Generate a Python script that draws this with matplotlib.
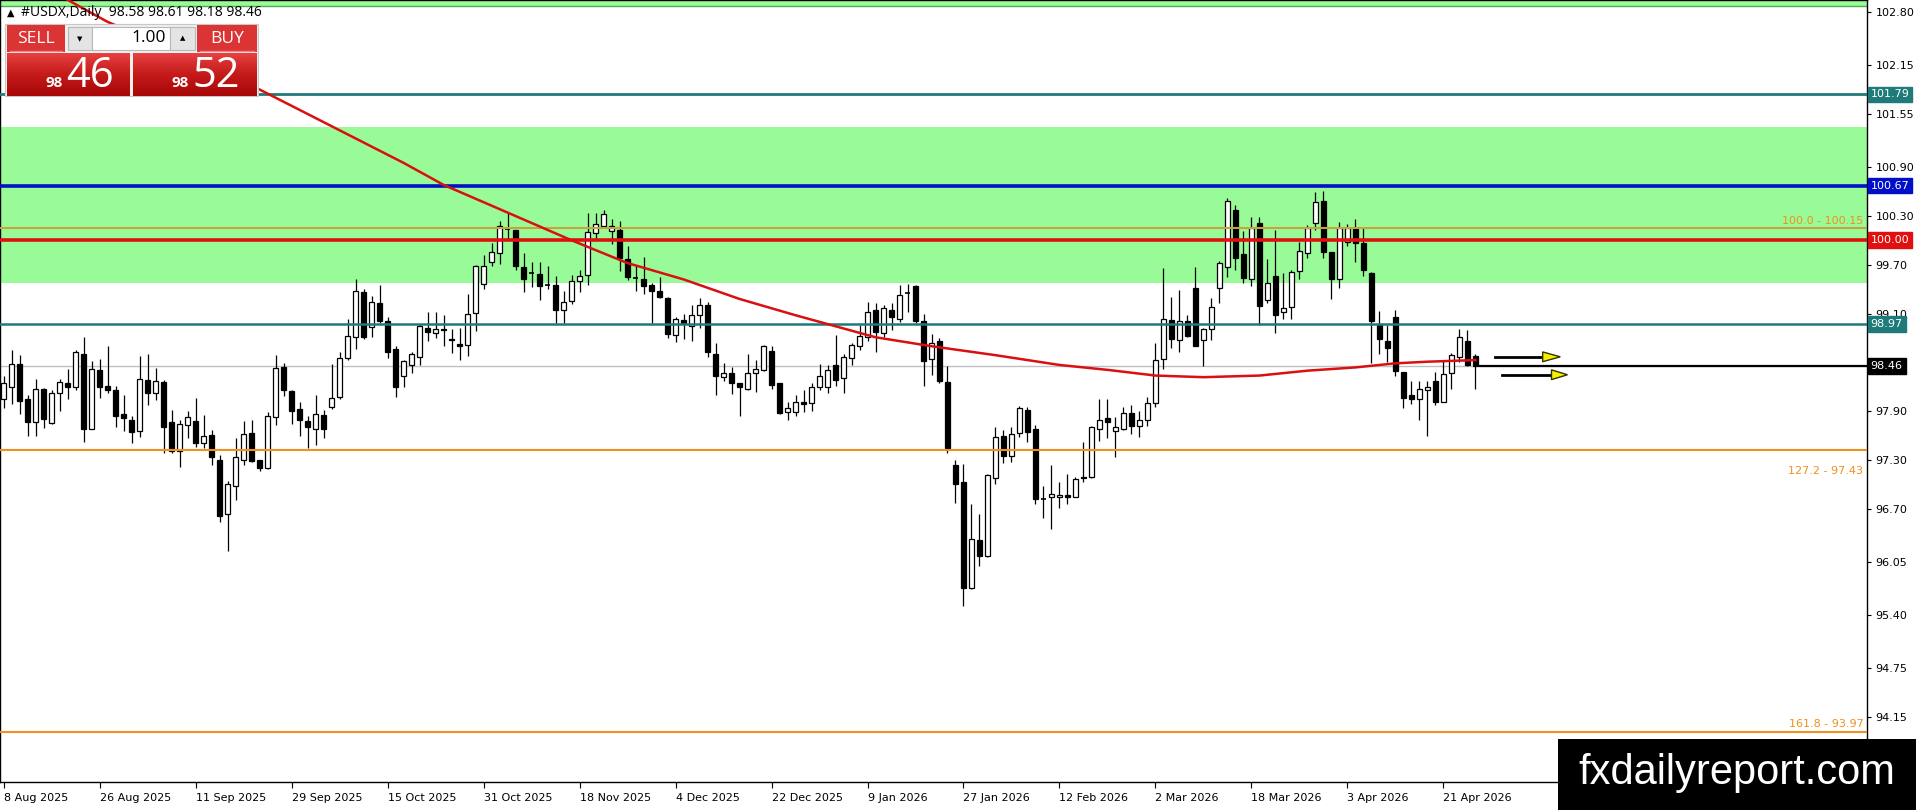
import matplotlib
matplotlib.use("Agg")
import matplotlib.pyplot as plt
from matplotlib.patches import Rectangle, Polygon
from matplotlib.colors import LinearSegmentedColormap
import numpy as np

# daily candles (bar 0 = 8 Aug 2025)
opens = [98.05, 98.20, 98.48, 98.05, 97.77, 98.17, 97.76, 98.12, 98.25, 98.20,
         98.61, 97.68, 98.41, 98.21, 98.16, 97.87, 97.80, 97.66, 98.29, 98.13,
         98.26, 97.77, 97.42, 97.73, 97.78, 97.51, 97.61, 97.30, 96.64, 96.98,
         97.31, 97.63, 97.30, 97.20, 97.83, 98.44, 98.15, 97.93, 97.78, 97.69,
         97.86, 97.95, 98.08, 98.55, 98.81, 99.37, 98.93, 99.23, 99.01, 98.66,
         98.33, 98.47, 98.57, 98.92, 98.86, 98.91, 98.79, 98.73, 98.71, 99.11,
         99.46, 99.73, 99.84, 100.14, 100.13, 99.67, 99.60, 99.59, 99.45, 99.45,
         99.15, 99.25, 99.50, 99.57, 100.09, 100.18, 100.11, 100.13, 99.77, 99.54,
         99.52, 99.45, 99.38, 99.29, 98.84, 99.02, 98.95, 99.08, 99.20, 98.61,
         98.32, 98.37, 98.25, 98.18, 98.37, 98.41, 98.64, 98.25, 97.89, 97.89,
         98.01, 98.00, 98.20, 98.20, 98.47, 98.31, 98.56, 98.70, 98.81, 99.15,
         98.86, 99.15, 99.03, 99.35, 99.44, 99.01, 98.54, 98.76, 98.26, 97.24,
         97.03, 95.73, 96.32, 96.12, 97.08, 97.60, 97.35, 97.64, 97.92, 97.68,
         96.83, 96.85, 96.85, 96.88, 96.85, 97.09, 97.10, 97.68, 97.82, 97.66,
         97.69, 97.88, 97.72, 97.80, 98.00, 98.54, 99.02, 98.78, 99.01, 99.42,
         98.78, 98.91, 99.42, 99.67, 100.37, 99.83, 99.52, 100.21, 99.27, 99.56,
         99.12, 99.18, 99.62, 99.84, 100.21, 100.48, 99.85, 99.52, 99.98, 100.14,
         99.97, 99.60, 98.97, 98.77, 99.06, 98.38, 98.10, 98.05, 98.16, 98.27,
         98.01, 98.37, 98.57, 98.77, 98.58]
highs = [98.33, 98.65, 98.59, 98.10, 98.30, 98.19, 98.16, 98.30, 98.42, 98.65,
         98.81, 98.52, 98.54, 98.70, 98.21, 98.10, 97.84, 98.58, 98.61, 98.43,
         98.28, 97.92, 97.80, 97.91, 98.07, 97.85, 97.67, 97.37, 97.05, 97.57,
         97.78, 97.80, 97.30, 97.89, 98.59, 98.50, 98.16, 98.02, 97.84, 98.10,
         97.92, 98.48, 98.63, 99.03, 99.53, 99.40, 99.32, 99.45, 99.06, 98.70,
         98.53, 98.63, 98.97, 99.12, 99.12, 99.08, 98.91, 98.92, 99.34, 99.70,
         99.82, 99.97, 100.24, 100.34, 100.13, 99.84, 99.73, 99.73, 99.68, 99.56,
         99.38, 99.57, 99.63, 100.34, 100.34, 100.37, 100.26, 100.24, 99.93, 99.68,
         99.79, 99.47, 99.55, 99.30, 99.06, 99.10, 99.20, 99.29, 99.24, 98.74,
         98.50, 98.45, 98.25, 98.61, 98.53, 98.72, 98.70, 98.25, 98.01, 98.10,
         98.16, 98.25, 98.48, 98.47, 98.84, 98.61, 98.74, 98.96, 99.24, 99.23,
         99.21, 99.23, 99.45, 99.46, 99.45, 99.10, 98.85, 98.80, 98.46, 97.30,
         97.26, 96.77, 96.64, 97.13, 97.71, 97.67, 97.71, 97.97, 97.95, 97.73,
         96.99, 97.24, 97.04, 97.13, 97.09, 97.53, 97.72, 98.05, 98.05, 97.83,
         97.96, 97.98, 97.90, 98.08, 98.74, 99.66, 99.30, 99.39, 99.08, 99.67,
         98.92, 99.29, 99.74, 100.52, 100.43, 100.11, 100.28, 100.28, 99.77, 100.13,
         99.60, 99.64, 99.98, 100.19, 100.59, 100.61, 99.86, 100.23, 100.20, 100.26,
         100.15, 99.61, 99.13, 98.96, 99.15, 98.38, 98.27, 98.27, 98.27, 98.38,
         98.53, 98.62, 98.91, 98.90, 98.61]
lows = [97.94, 97.99, 97.87, 97.60, 97.60, 97.70, 97.75, 97.91, 98.05, 98.16,
        97.53, 97.68, 98.06, 98.13, 97.71, 97.66, 97.51, 97.59, 97.98, 98.04,
        97.39, 97.39, 97.22, 97.57, 97.46, 97.45, 97.24, 96.54, 96.19, 96.81,
        97.24, 97.28, 97.17, 97.19, 97.73, 98.09, 97.75, 97.60, 97.45, 97.49,
        97.57, 97.93, 98.05, 98.53, 98.67, 98.79, 98.81, 98.99, 98.55, 98.08,
        98.20, 98.37, 98.47, 98.76, 98.80, 98.70, 98.62, 98.53, 98.58, 98.89,
        99.40, 99.68, 99.71, 100.02, 99.63, 99.37, 99.43, 99.27, 99.40, 98.98,
        98.98, 99.22, 99.37, 99.45, 100.02, 100.17, 99.96, 99.62, 99.51, 99.38,
        99.34, 98.98, 99.29, 98.80, 98.75, 98.79, 98.76, 98.92, 98.57, 98.10,
        98.27, 98.11, 97.84, 98.16, 98.14, 98.39, 98.17, 97.87, 97.80, 97.84,
        97.89, 97.91, 98.16, 98.12, 98.21, 98.13, 98.47, 98.65, 98.76, 98.63,
        98.81, 98.90, 99.00, 99.12, 98.98, 98.21, 98.35, 98.25, 97.39, 96.78,
        95.51, 95.72, 96.00, 96.11, 97.01, 97.27, 97.28, 97.58, 97.53, 96.77,
        96.59, 96.46, 96.71, 96.77, 96.85, 97.04, 97.08, 97.54, 97.57, 97.34,
        97.67, 97.62, 97.58, 97.72, 97.95, 98.42, 98.68, 98.63, 98.81, 98.70,
        98.46, 98.78, 99.23, 99.55, 99.63, 99.47, 99.44, 98.96, 99.23, 98.86,
        99.03, 99.04, 99.53, 99.78, 100.13, 99.78, 99.28, 99.42, 99.93, 99.73,
        99.56, 98.49, 98.61, 98.51, 98.33, 97.94, 97.99, 97.80, 97.60, 97.98,
        98.01, 98.18, 98.51, 98.46, 98.18]
closes = [98.25, 98.48, 98.03, 97.77, 98.18, 97.81, 98.13, 98.26, 98.20, 98.63,
          97.68, 98.42, 98.20, 98.16, 97.84, 97.82, 97.65, 98.30, 98.12, 98.27,
          97.71, 97.42, 97.74, 97.83, 97.51, 97.60, 97.34, 96.62, 97.01, 97.34,
          97.62, 97.29, 97.21, 97.84, 98.43, 98.16, 97.91, 97.80, 97.71, 97.87,
          97.68, 98.07, 98.56, 98.83, 99.38, 98.81, 99.24, 99.01, 98.63, 98.20,
          98.52, 98.61, 98.95, 98.88, 98.91, 98.90, 98.78, 98.70, 99.10, 99.69,
          99.69, 99.85, 100.18, 100.14, 99.68, 99.53, 99.60, 99.44, 99.45, 99.14,
          99.24, 99.50, 99.56, 100.10, 100.20, 100.32, 100.17, 99.78, 99.55, 99.54,
          99.44, 99.38, 99.30, 98.85, 99.03, 98.99, 99.08, 99.21, 98.63, 98.33,
          98.37, 98.25, 98.20, 98.37, 98.42, 98.70, 98.23, 97.88, 97.94, 98.02,
          97.99, 98.20, 98.34, 98.41, 98.29, 98.57, 98.71, 98.83, 99.12, 98.87,
          99.17, 99.06, 99.33, 99.35, 99.01, 98.52, 98.74, 98.27, 97.45, 97.01,
          95.73, 96.33, 96.13, 97.12, 97.58, 97.35, 97.62, 97.94, 97.65, 96.82,
          96.83, 96.89, 96.88, 96.85, 97.07, 97.08, 97.71, 97.80, 97.77, 97.71,
          97.88, 97.72, 97.80, 98.00, 98.53, 99.03, 98.79, 99.01, 98.83, 98.70,
          98.91, 99.18, 99.72, 100.48, 99.78, 99.54, 100.15, 99.19, 99.47, 99.08,
          99.17, 99.61, 99.87, 100.15, 100.47, 99.86, 99.53, 100.15, 100.15, 99.97,
          99.64, 99.01, 98.79, 98.68, 98.39, 98.07, 98.05, 98.17, 98.20, 98.02,
          98.36, 98.59, 98.81, 98.47, 98.46]

date_labels = ["8 Aug 2025", "26 Aug 2025", "11 Sep 2025", "29 Sep 2025", "15 Oct 2025",
               "31 Oct 2025", "18 Nov 2025", "4 Dec 2025", "22 Dec 2025", "9 Jan 2026",
               "27 Jan 2026", "12 Feb 2026", "2 Mar 2026", "18 Mar 2026", "3 Apr 2026",
               "21 Apr 2026"]
label_step = 12

# moving average (red curve), read at a few bars
ma_bars = [8, 13, 20, 32, 44, 50, 55, 67, 71, 78, 85, 92, 99, 109, 116, 124, 132,
           138, 144, 150, 157, 163, 169, 174, 178, 184]
ma_vals = [102.95, 102.68, 102.39, 101.85, 101.25, 100.95, 100.68, 100.17, 100.00,
           99.72, 99.52, 99.28, 99.08, 98.81, 98.70, 98.59, 98.47, 98.41, 98.34,
           98.32, 98.34, 98.40, 98.44, 98.49, 98.51, 98.53]

yticks = [102.80, 102.15, 101.55, 100.90, 100.30, 99.70, 99.10, 97.90, 97.30,
          96.70, 96.05, 95.40, 94.75, 94.15]

zone_lo, zone_hi = 99.48, 101.39
top_zone = 102.87
lvl_teal_hi = 101.79
lvl_blue = 100.67
lvl_tan = 100.15
lvl_red = 100.00
lvl_teal_lo = 98.97
bid = 98.46
fib_lines = [(97.43, "127.2 - 97.43", "below"), (93.97, "161.8 - 93.97", "above")]

W, H = 1916, 810
fig = plt.figure(figsize=(W / 100, H / 100), dpi=100)
ax = fig.add_axes([0, 28 / H, 1867 / W, 782 / H])
ax.set_xlim(-0.44, 232.94)
ax.set_ylim(93.353, 102.948)

teal = "#1f7a7a"
orange = "#f0901e"

ax.axhspan(zone_lo, zone_hi, color="#98fb98", lw=0, zorder=0)
ax.axhspan(top_zone, 104, color="#98fb98", lw=0, zorder=0)
ax.axhline(top_zone, color="#4faa4f", lw=1, zorder=1)

# candles
for i in range(len(opens)):
    o, h, l, c = opens[i], highs[i], lows[i], closes[i]
    ax.vlines(i, l, h, color="black", lw=0.9, zorder=3)
    if abs(c - o) < 0.008:
        ax.hlines(o, i - 0.3, i + 0.3, color="black", lw=1.2, zorder=4)
    else:
        fc = "white" if c > o else "black"
        ax.add_patch(Rectangle((i - 0.29, min(o, c)), 0.58, abs(c - o),
                               facecolor=fc, edgecolor="black", lw=0.9, zorder=4))

# levels
ax.axhline(bid, color="#c0c0c0", lw=1, zorder=2)
ax.axhline(lvl_teal_hi, color=teal, lw=2, zorder=5)
ax.axhline(lvl_blue, color="#0010c8", lw=2.6, zorder=5)
ax.axhline(lvl_tan, color="#c9a23c", lw=1.5, zorder=5)
ax.axhline(lvl_red, color="#e01010", lw=2.6, zorder=5)
ax.axhline(lvl_teal_lo, color=teal, lw=1.8, zorder=5)
for v, t, where in fib_lines:
    ax.axhline(v, color=orange, lw=1.5, zorder=5)
    if where == "above":
        ax.text(0.998, v + 0.03, t, transform=ax.get_yaxis_transform(), ha="right",
                va="bottom", fontsize=8, color=orange)
    else:
        ax.text(0.998, v - 0.2, t, transform=ax.get_yaxis_transform(), ha="right",
                va="top", fontsize=8, color=orange)
ax.text(0.998, lvl_tan + 0.03, "100.0 - 100.15", transform=ax.get_yaxis_transform(),
        ha="right", va="bottom", fontsize=8, color=orange)

ax.plot(ma_bars, ma_vals, color="#d81010", lw=1.8, zorder=6)
ax.hlines(bid, len(opens) - 0.5, 240, color="black", lw=1.6, zorder=6)

# arrows to the right of the last bar
for yv, x0, x1, x2 in [(98.57, 186.4, 192.4, 194.6), (98.35, 187.3, 193.5, 195.5)]:
    ax.plot([x0, x1], [yv, yv], color="black", lw=2, zorder=7)
    ax.add_patch(Polygon([[x1, yv + 0.06], [x2, yv], [x1, yv - 0.06]], closed=True,
                         facecolor="#f4f000", edgecolor="#333300", lw=1, zorder=8))

# axes
ax.yaxis.tick_right()
ax.set_yticks(yticks)
ax.set_yticklabels([f"{v:.2f}" for v in yticks])
ax.tick_params(axis="y", length=3, pad=3, labelsize=8, color="black")
ax.set_xticks(np.arange(len(date_labels)) * label_step)
ax.set_xticklabels(date_labels, ha="left")
ax.tick_params(axis="x", length=4, pad=4, labelsize=8)
for s in ax.spines.values():
    s.set_color("black")
    s.set_linewidth(1)

for v, col in [(lvl_teal_hi, teal), (lvl_blue, "#0010c8"), (lvl_red, "#e01010"),
               (lvl_teal_lo, teal), (bid, "black")]:
    ax.text(1.002, v, f"{v:.2f}", transform=ax.get_yaxis_transform(), ha="left",
            va="center", fontsize=8, color="white", zorder=10, clip_on=False,
            bbox=dict(boxstyle="square,pad=0.25", fc=col, ec=col))

# overlay in pixel coordinates for the trade panel and logo
ov = fig.add_axes([0, 0, 1, 1])
ov.set_xlim(0, W)
ov.set_ylim(H, 0)
ov.axis("off")

ov.text(7, 13, "\u25b2", fontsize=7, va="center", ha="left", color="black")
ov.text(21, 13, "#USDX,Daily  98.58 98.61 98.18 98.46", fontsize=10, va="center",
        ha="left", family="Open Sans", color="black")

ov.add_patch(Rectangle((5, 24), 253, 72, fc="#f0f0f0", ec="#c8c8c8", lw=0.8))
red_btn = "#db3434"
for x0, t in [(7, "SELL"), (197, "BUY")]:
    ov.add_patch(Rectangle((x0, 25), 60 if t == "BUY" else 58, 27, fc=red_btn, ec="none"))
    ov.plot([x0 + 3, x0 + (57 if t == "BUY" else 55)], [51, 51], color="#f08080", lw=1)
    ov.text(x0 + (30 if t == "BUY" else 29), 39, t, color="white", fontsize=12.5,
            family="Open Sans", ha="center", va="center")
ov.add_patch(Rectangle((68, 27), 24, 23, fc="#e4e4e4", ec="#b8b8b8", lw=0.8))
ov.add_patch(Rectangle((92, 27), 78, 23, fc="white", ec="#b8b8b8", lw=0.8))
ov.add_patch(Rectangle((170, 27), 25, 23, fc="#e4e4e4", ec="#b8b8b8", lw=0.8))
ov.text(80, 39, "\u25bc", fontsize=5, ha="center", va="center")
ov.text(182.5, 38, "\u25b2", fontsize=5, ha="center", va="center")
ov.text(166, 38, "1.00", fontsize=12.5, family="Open Sans", ha="right", va="center")

cm = LinearSegmentedColormap.from_list("r", ["#e64040", "#c41a1a", "#a80808"])
grad = np.linspace(0, 1, 50).reshape(-1, 1)
for x0, x1, big in [(7, 130, "46"), (133, 257, "52")]:
    ov.imshow(grad, extent=(x0, x1, 96, 53), cmap=cm, aspect="auto", zorder=2)
    ov.text(x0 + 56, 83, "98", fontsize=11, fontweight="bold", family="Open Sans",
            color="white", ha="right", va="center", zorder=3)
    ov.text(x0 + 59, 76, big, fontsize=30, family="Open Sans", color="white",
            ha="left", va="center", zorder=3)
ov.set_xlim(0, W)
ov.set_ylim(H, 0)

ov.add_patch(Rectangle((1558, 739), 358, 71, fc="black", ec="none"))
ov.text(1737, 773, "fxdailyreport.com", fontsize=30, family="Liberation Sans",
        color="white", ha="center", va="center")

fig.savefig("out.png", dpi=100)
